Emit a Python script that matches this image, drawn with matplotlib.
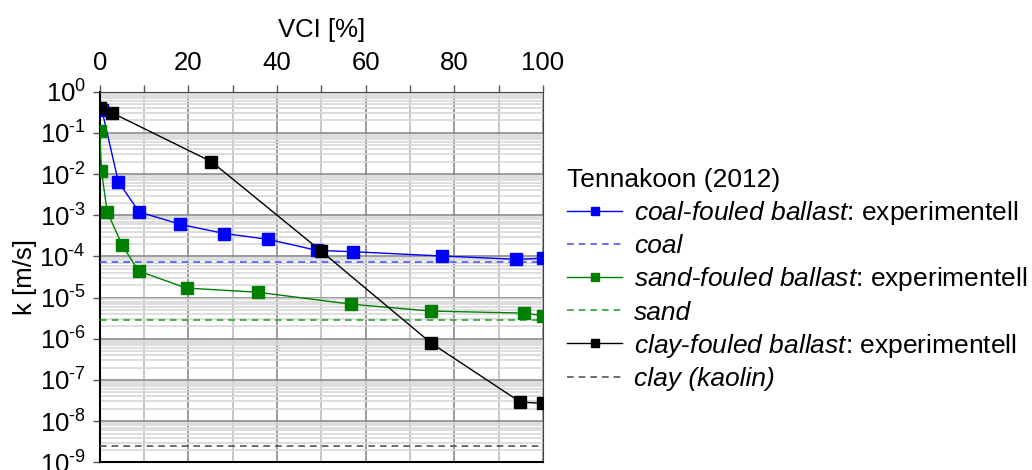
import matplotlib.pyplot as plt
from matplotlib.ticker import LogLocator, MultipleLocator, NullFormatter, FuncFormatter
import numpy as np

plt.rcParams['font.family'] = ['Liberation Sans', 'DejaVu Sans']
plt.rcParams['mathtext.fontset'] = 'custom'
plt.rcParams['mathtext.rm'] = 'Liberation Sans'
plt.rcParams['mathtext.it'] = 'Liberation Sans:italic'

# VCI [%] and permeability k [m/s] (Tennakoon 2012)
coal_vci = [0.5, 4.2, 8.9, 18.2, 28.1, 38.0, 49.0, 57.2, 77.3, 94.0, 100.0]
coal_k = [0.36, 6.5e-3, 1.2e-3, 6.0e-4, 3.6e-4, 2.6e-4, 1.4e-4, 1.3e-4, 1.02e-4, 8.5e-5, 9.0e-5]

sand_vci = [0.0, 0.4, 1.7, 5.1, 8.8, 19.6, 35.6, 56.8, 74.8, 95.8, 100.0]
sand_k = [0.11, 0.0117, 1.2e-3, 1.86e-4, 4.4e-5, 1.7e-5, 1.35e-5, 6.9e-6, 4.7e-6, 4.2e-6, 3.6e-6]

clay_vci = [0.0, 2.7, 25.2, 50.0, 74.8, 94.9, 100.0]
clay_k = [0.40, 0.31, 0.020, 1.33e-4, 7.8e-7, 2.9e-8, 2.7e-8]

coal_only = 7.2e-5
sand_only = 2.8e-6
clay_only = 2.5e-9


def decade_label(v, pos):
    e = int(round(np.log10(v)))
    if e < 0:
        return r'$10^{\text{-}%d}$' % -e
    return r'$10^{%d}$' % e


fig = plt.figure(figsize=(10.32, 4.70), dpi=100)
ax = fig.add_axes([99.7 / 1032, 1 - 462.3 / 470, (543 - 99.7) / 1032, (462.3 - 91.7) / 470])

ax.plot(coal_vci, coal_k, color='#0000ff', lw=1, marker='s', ms=9, zorder=5,
        label=r'$\mathit{coal}\text{-}\mathit{fouled\ ballast}$: experimentell')
ax.axhline(coal_only, color='#5555ff', lw=1.2, ls=(0, (4, 3)), zorder=4, label='coal')
ax.plot(sand_vci, sand_k, color='#008000', lw=1, marker='s', ms=9, zorder=5,
        label=r'$\mathit{sand}\text{-}\mathit{fouled\ ballast}$: experimentell')
ax.axhline(sand_only, color='#33a033', lw=1.2, ls=(0, (4, 3)), zorder=4, label='sand')
ax.plot(clay_vci, clay_k, color='black', lw=1, marker='s', ms=9, zorder=6,
        label=r'$\mathit{clay}\text{-}\mathit{fouled\ ballast}$: experimentell')
ax.axhline(clay_only, color='#555555', lw=1.2, ls=(0, (4, 3)), zorder=4, label='clay (kaolin)')

ax.set_yscale('log')
ax.set_ylim(1e-9, 1)
ax.set_xlim(0, 100)

ax.xaxis.set_major_locator(MultipleLocator(20))
ax.xaxis.set_minor_locator(MultipleLocator(10))
ax.yaxis.set_major_locator(LogLocator(base=10, numticks=20))
ax.yaxis.set_major_formatter(FuncFormatter(decade_label))
ax.yaxis.set_minor_locator(LogLocator(base=10, subs=range(2, 10), numticks=200))
ax.yaxis.set_minor_formatter(NullFormatter())

ax.xaxis.tick_top()
ax.xaxis.set_label_position('top')
ax.tick_params(axis='both', which='major', labelsize=18.5, length=5, width=1, color='#555555')
ax.tick_params(axis='x', which='major', pad=7)
ax.tick_params(axis='y', which='major', pad=5)
ax.tick_params(axis='x', which='minor', length=5, width=1, color='#555555', top=True, bottom=False)
ax.tick_params(axis='y', which='minor', length=0)

ax.grid(True, which='major', axis='both', color='#8a8a8a', lw=1.2)
ax.grid(True, which='minor', axis='x', color='#bdbdbd', lw=1.2)
ax.grid(True, which='minor', axis='y', color='#d8d8d8', lw=1.2)
ax.set_axisbelow(True)

for side in ['top', 'right']:
    ax.spines[side].set_color('#444444')
for side in ['left', 'bottom']:
    ax.spines[side].set_color('black')
    ax.spines[side].set_linewidth(1.5)

ax.set_xlabel('VCI [%]', fontsize=18.5, labelpad=10)
ax.set_ylabel('k [m/s]', fontsize=18.5, labelpad=2)

leg = ax.legend(loc='upper left', bbox_to_anchor=(567 / 1032, 1 - 168 / 470),
                bbox_transform=fig.transFigure, title='Tennakoon (2012)', frameon=False,
                fontsize=19, title_fontsize=19, handlelength=2.1, handletextpad=0.45,
                labelspacing=0.27, markerscale=0.6, borderaxespad=0, borderpad=0)
leg._legend_box.align = 'left'
for t in leg.get_texts():
    if t.get_text() in ('coal', 'sand', 'clay (kaolin)'):
        t.set_fontstyle('italic')

fig.savefig('out.png', dpi=100)
